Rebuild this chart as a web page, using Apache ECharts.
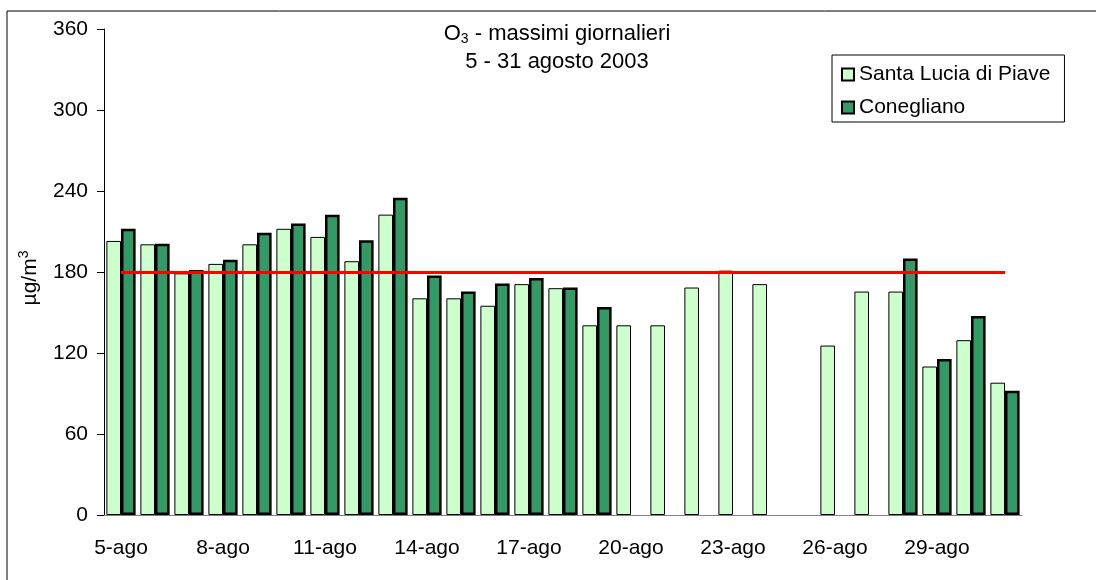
<!DOCTYPE html>
<html>
<head>
<meta charset="utf-8">
<script src="https://cdn.jsdelivr.net/npm/echarts@6/dist/echarts.min.js"></script>
<style>
html,body{margin:0;padding:0;background:#fff;}
#chart{width:1096px;height:580px;}
</style>
</head>
<body>
<div id="chart"></div>
<script>
var categories = ['5-ago','6-ago','7-ago','8-ago','9-ago','10-ago','11-ago','12-ago','13-ago','14-ago','15-ago','16-ago','17-ago','18-ago','19-ago','20-ago','21-ago','22-ago','23-ago','24-ago','25-ago','26-ago','27-ago','28-ago','29-ago','30-ago','31-ago'];
var santaLucia = [203, 200.5, 179, 186, 200.5, 212, 206, 188, 222.5, 160.5, 160.5, 155, 171, 168, 140.5, 140.5, 140.5, 168.5, 181, 171, null, 125.5, 165.5, 165.5, 110, 129.5, 98];
var conegliano = [212, 201, 181.5, 189, 209, 216, 222.5, 203.5, 235, 177.5, 165.5, 171.5, 175.5, 168.5, 154, null, null, null, null, null, null, null, null, 190, 115.5, 147.5, 92];
var yTicks = [0, 60, 120, 180, 240, 300, 360];
var threshold = 180;
var seriesNames = ['Santa Lucia di Piave', 'Conegliano'];

var FONT = '"Liberation Sans", Arial, sans-serif';
var chart = echarts.init(document.getElementById('chart'), null, {renderer: 'canvas'});
var option = {
  backgroundColor: '#ffffff',
  animation: false,
  graphic: [
    {type: 'rect', shape: {x: 7, y: 11, width: 1100, height: 600}, style: {fill: 'none', stroke: '#000', lineWidth: 1}, silent: true},
    {type: 'text', x: 557, y: 34, style: {
      text: '{a|O}{s|3}{a| - massimi giornalieri}',
      textAlign: 'center', textVerticalAlign: 'middle',
      rich: {a: {fontSize: 22, fontFamily: FONT, fill: '#000'}, s: {fontSize: 14, fontFamily: FONT, fill: '#000', padding: [10, 0, 0, 0]}}
    }},
    {type: 'text', x: 557, y: 62, style: {
      text: '5 - 31 agosto 2003', textAlign: 'center', textVerticalAlign: 'middle',
      fontSize: 22, fontFamily: FONT, fill: '#000'
    }}
  ],
  legend: {
    orient: 'vertical',
    left: 832, top: 55,
    padding: [9, 14, 4, 9],
    itemGap: 12,
    itemWidth: 12, itemHeight: 12,
    borderColor: '#000', borderWidth: 1,
    icon: 'rect',
    textStyle: {fontSize: 21, fontFamily: FONT, color: '#000'},
    data: seriesNames
  },
  grid: {left: 104, right: 74, top: 29, bottom: 65, containLabel: false},
  xAxis: {
    type: 'category',
    data: categories,
    boundaryGap: true,
    axisLine: {lineStyle: {color: '#808080', width: 1}},
    axisTick: {interval: 2, length: 7, lineStyle: {color: '#000'}},
    axisLabel: {interval: 2, margin: 23, fontSize: 21, fontFamily: FONT, color: '#000'},
    splitLine: {show: false}
  },
  yAxis: {
    type: 'value',
    min: yTicks[0], max: yTicks[yTicks.length - 1], interval: 60,
    name: '{a|µg/m}{s|3}',
    nameLocation: 'middle', nameRotate: 90, nameGap: 61,
    nameTextStyle: {padding: [0, 12, 0, 0], rich: {a: {fontSize: 21, fontFamily: FONT, color: '#000'}, s: {fontSize: 14, fontFamily: FONT, color: '#000', padding: [0, 0, 12, 0]}}},
    axisLine: {show: true, lineStyle: {color: '#000', width: 1}},
    axisTick: {show: true, length: 7, lineStyle: {color: '#000'}},
    axisLabel: {margin: 16, fontSize: 21, fontFamily: FONT, color: '#000'},
    splitLine: {show: false}
  },
  series: [
    {
      name: seriesNames[0], type: 'bar', data: santaLucia,
      barGap: '0%', barCategoryGap: '14%',
      itemStyle: {color: '#CCFFCC', borderColor: '#000', borderWidth: 1}
    },
    {
      name: seriesNames[1], type: 'bar', data: conegliano,
      barGap: '0%', barCategoryGap: '14%',
      itemStyle: {color: '#339966', borderColor: '#000', borderWidth: 2.5}
    },
    {
      name: 'limite', type: 'line', data: [], silent: true,
      markLine: {
        silent: true, symbol: 'none', label: {show: false}, z: 10,
        lineStyle: {color: '#FF0000', width: 3, type: 'solid'},
        data: [[{xAxis: categories[0], yAxis: threshold}, {xAxis: categories[categories.length - 1], yAxis: threshold}]]
      }
    }
  ]
};
chart.setOption(option);
</script>
</body>
</html>
